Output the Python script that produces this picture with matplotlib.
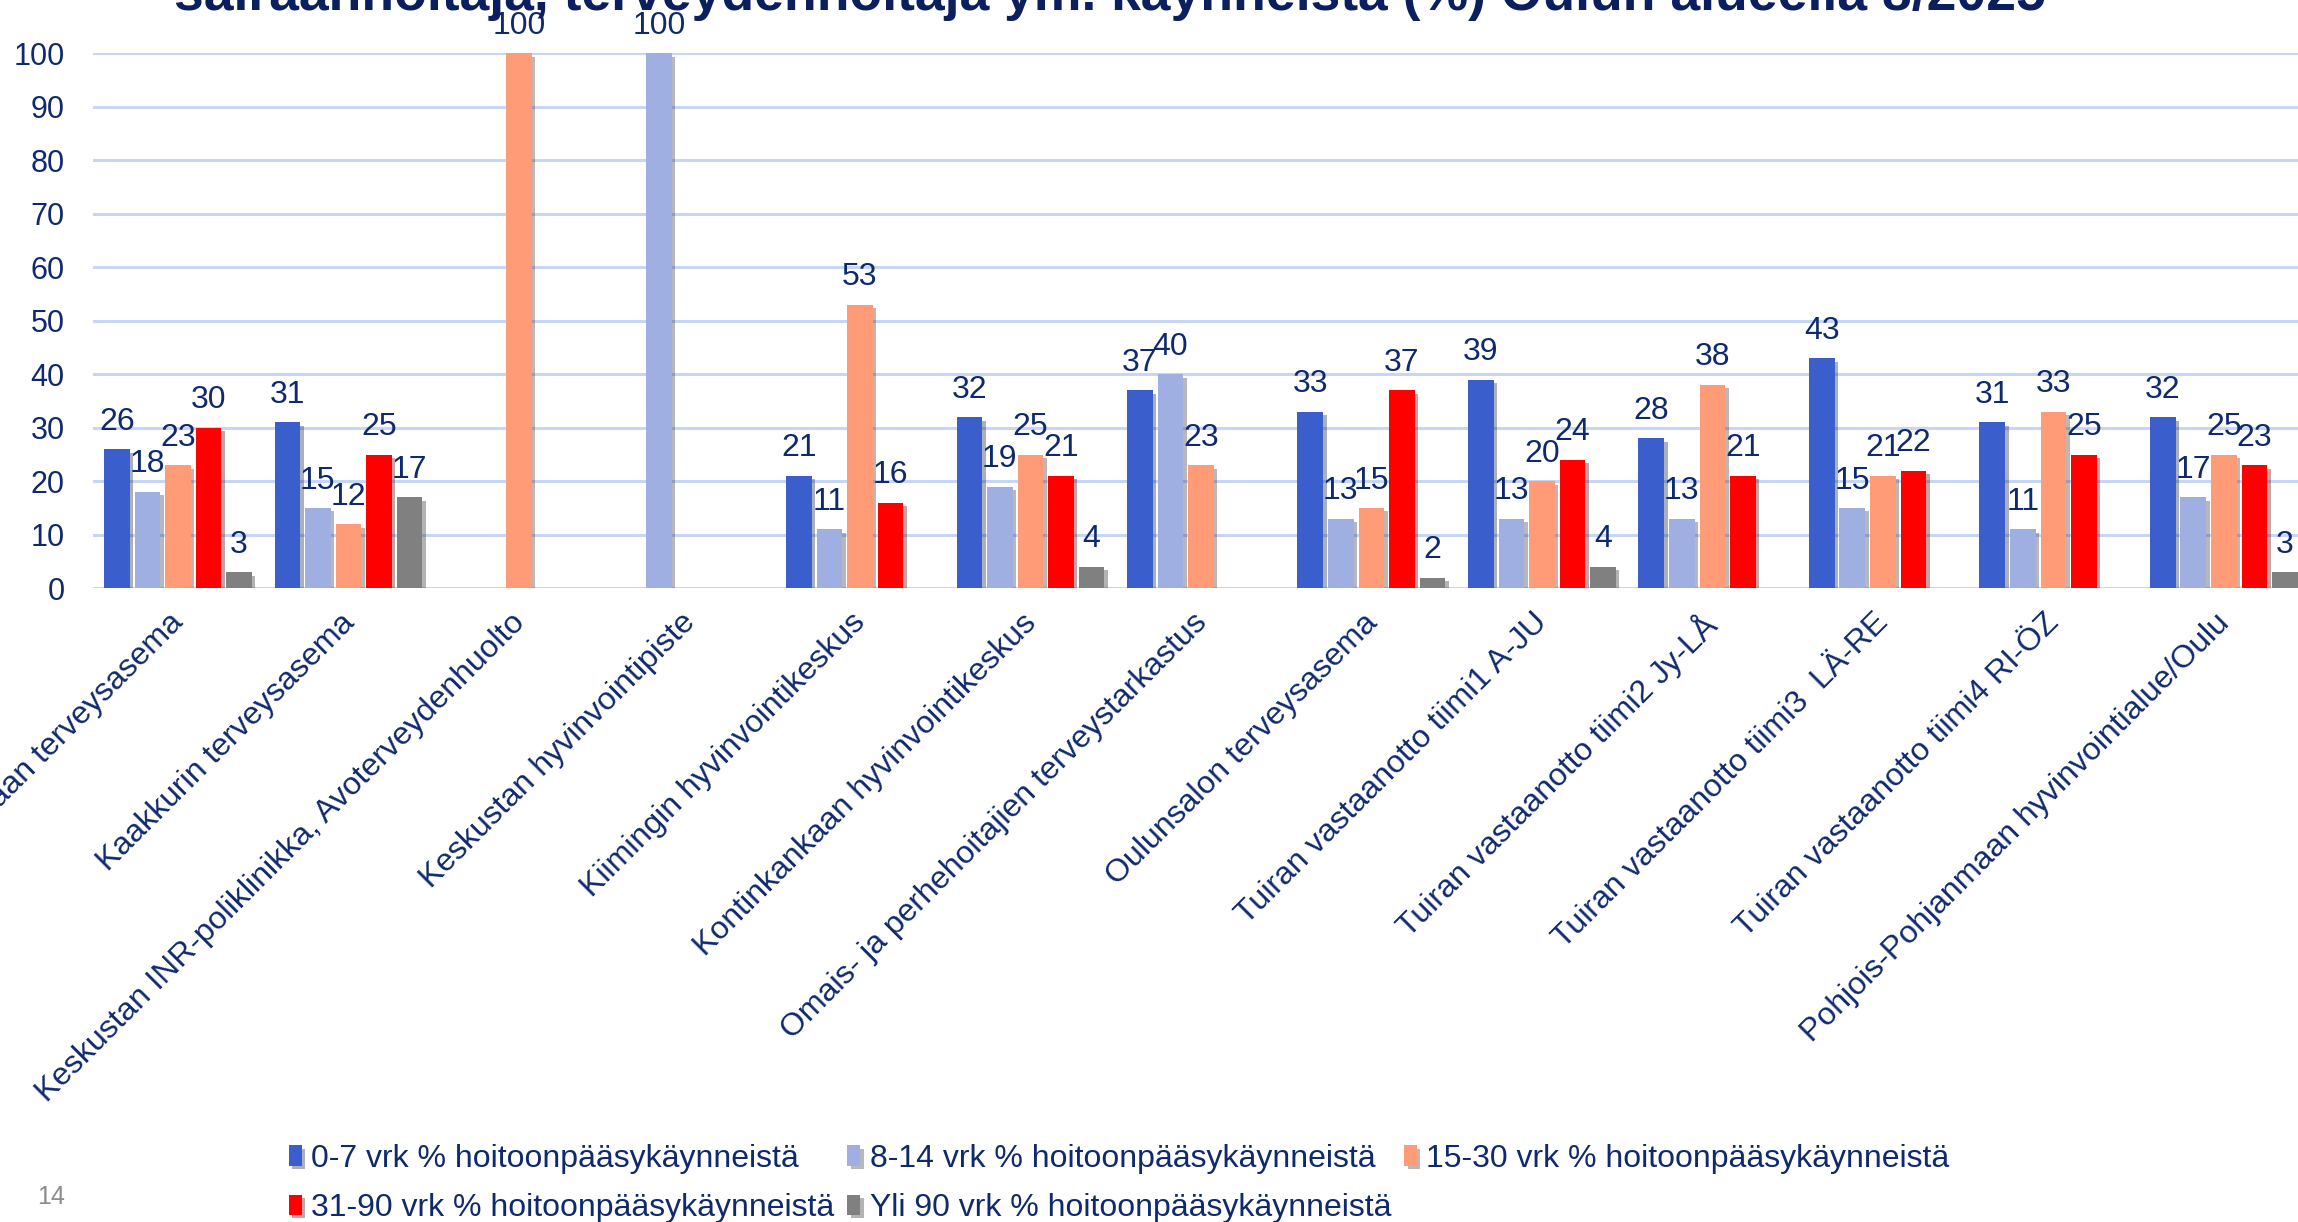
import numpy as np
import matplotlib
matplotlib.use("Agg")
import matplotlib.pyplot as plt
import matplotlib.patheffects as pe
from matplotlib.transforms import ScaledTranslation

plt.rcParams['font.family'] = ['Liberation Sans', 'DejaVu Sans']

NAVY = '#0F2A6C'

kategoriat = [
    "Haukiputaan terveysasema",
    "Kaakkurin terveysasema",
    "Keskustan INR-poliklinikka, Avoterveydenhuolto",
    "Keskustan hyvinvointipiste",
    "Kiimingin hyvinvointikeskus",
    "Kontinkankaan hyvinvointikeskus",
    "Omais- ja perhehoitajien terveystarkastus",
    "Oulunsalon terveysasema",
    "Tuiran vastaanotto tiimi1 A-JU",
    "Tuiran vastaanotto tiimi2 Jy-LÅ",
    "Tuiran vastaanotto tiimi3  LÄ-RE",
    "Tuiran vastaanotto tiimi4 RI-ÖZ",
    "Pohjois-Pohjanmaan hyvinvointialue/Oulu",
]

nan = np.nan
vrk_0_7 = [26, 31, nan, nan, 21, 32, 37, 33, 39, 28, 43, 31, 32]
vrk_8_14 = [18, 15, nan, 100, 11, 19, 40, 13, 13, 13, 15, 11, 17]
vrk_15_30 = [23, 12, 100, nan, 53, 25, 23, 15, 20, 38, 21, 33, 25]
vrk_31_90 = [30, 25, nan, nan, 16, 21, nan, 37, 24, 21, 22, 25, 23]
yli_90 = [3, 17, nan, nan, nan, 4, nan, 2, 4, nan, nan, nan, 3]

sarjat = [
    ("0-7 vrk % hoitoonpääsykäynneistä", vrk_0_7, '#3A5FCD'),
    ("8-14 vrk % hoitoonpääsykäynneistä", vrk_8_14, '#9FAFE1'),
    ("15-30 vrk % hoitoonpääsykäynneistä", vrk_15_30, '#FF9B77'),
    ("31-90 vrk % hoitoonpääsykäynneistä", vrk_31_90, '#FF0000'),
    ("Yli 90 vrk % hoitoonpääsykäynneistä", yli_90, '#808080'),
]

fig = plt.figure(figsize=(22.98, 12.22), dpi=100)
ax = fig.add_axes([0.0403, 0.5186, 0.9645, 0.4378])

x = np.arange(len(kategoriat))
askel = 0.179
leveys = 0.15
varjo = [pe.SimplePatchShadow(offset=(2.5, -2.5), alpha=0.35), pe.Normal()]

kahvat = []
for k, (nimi, arvot, vari) in enumerate(sarjat):
    arvot = np.array(arvot, dtype=float)
    pos = x + (k - 2) * askel
    bars = ax.bar(pos, arvot, width=leveys, color=vari, label=nimi, zorder=3)
    for b in bars:
        b.set_path_effects(varjo)
    kahvat.append(bars)
    for px, v in zip(pos, arvot):
        if not np.isnan(v):
            ax.annotate(f"{v:.0f}", (px, v), xytext=(0, 9), textcoords='offset points',
                        ha='center', va='bottom', fontsize=23, color=NAVY,
                        annotation_clip=False, zorder=5)

ax.set_xlim(-0.5, len(kategoriat) - 0.5)
ax.set_ylim(0, 100)
ax.set_yticks(np.arange(0, 101, 10))
ax.grid(axis='y', color='#C8D6F6', linewidth=2.2, zorder=0)
ax.set_axisbelow(True)
for s in ax.spines.values():
    s.set_visible(False)
ax.tick_params(axis='y', length=0, pad=20, labelsize=22, labelcolor=NAVY)
ax.tick_params(axis='x', length=0, pad=14, labelsize=23, labelcolor=NAVY)
ax.set_xticks(x, kategoriat, rotation=45, ha='right', va='top')
siirto = ScaledTranslation(12 / 100, 0, fig.dpi_scale_trans)
for lab in ax.get_xticklabels():
    lab.set_transform(lab.get_transform() + siirto)

# legenda rivi kerrallaan: 3 saraketta
jarj = [0, 3, 1, 4, 2]
fig.legend([kahvat[i] for i in jarj], [sarjat[i][0] for i in jarj],
           ncol=3, loc='upper left', bbox_to_anchor=(289 / 2298, 0.064),
           frameon=False, fontsize=23, labelcolor=NAVY, handlelength=0.4,
           handleheight=0.6, handletextpad=0.3, columnspacing=0.4,
           labelspacing=0.6, borderpad=0, borderaxespad=0)

fig.text(0.483, 0.9918,
         "sairaanhoitaja, terveydenhoitaja ym. käynneistä (%) Oulun alueella 8/2025",
         ha='center', va='baseline', fontsize=38.5, fontweight='bold', color='#0B1F5E')
fig.text(51 / 2298, 1 - 1197 / 1222, "14", ha='center', va='center',
         fontsize=18, color='#8C8C8C')

fig.savefig('out.png', dpi=100)
